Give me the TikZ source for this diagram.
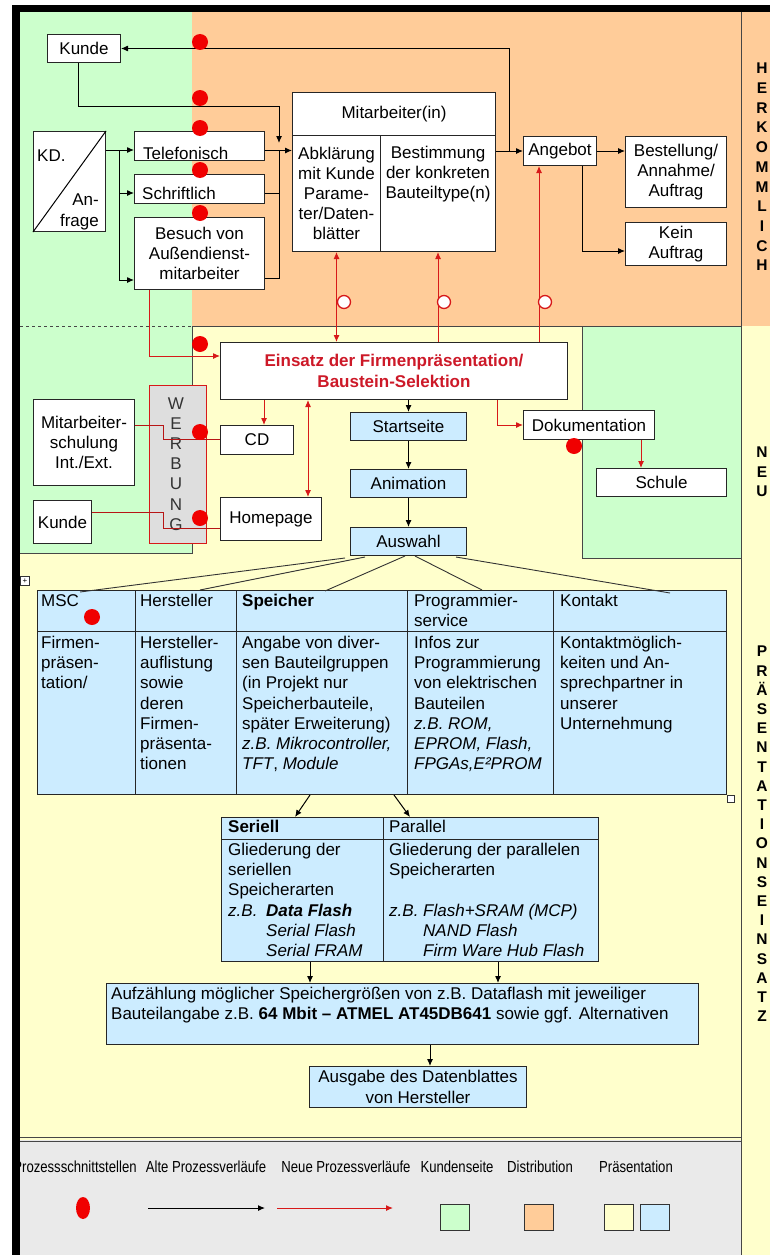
\documentclass[tikz,border=0pt]{standalone}
\usepackage{fontspec}
\setmainfont{Liberation Sans}
\newfontfamily\legendfont[FakeStretch=0.82]{Liberation Sans}
\usetikzlibrary{arrows.meta,calc,shapes.geometric}
\newcommand\myfs{\fontsize{17}{20.2}\selectfont}
\definecolor{kgreen}{RGB}{204,255,204}
\definecolor{korange}{RGB}{255,204,153}
\definecolor{kyellow}{RGB}{255,255,204}
\definecolor{kblue}{RGB}{204,236,255}
\definecolor{kgray}{RGB}{234,234,234}
\definecolor{wgray}{RGB}{222,222,222}
\definecolor{kred}{RGB}{215,25,25}
\definecolor{dotred}{RGB}{240,0,0}
\definecolor{tred}{RGB}{205,25,40}
\definecolor{lgray}{RGB}{70,70,70}
\tikzset{
 box/.style={draw=black!85, fill=white, line width=1pt, inner sep=1pt, font=\myfs, align=center, anchor=north west},
 bbox/.style={box, fill=kblue},
 cell/.style={draw=black!85, fill=kblue, line width=1pt, inner sep=0pt, anchor=north west},
 txt/.style={inner sep=0pt, font=\myfs, align=left, anchor=north west},
 oldarr/.style={draw=black, line width=1pt, -{Latex[length=7pt,width=6pt]}},
 newarr/.style={draw=kred, line width=1pt, -{Latex[length=7pt,width=6pt]}},
 dnewarr/.style={draw=kred, line width=1pt, {Latex[length=7pt,width=6pt]}-{Latex[length=7pt,width=6pt]}},
 redln/.style={draw=kred!85!black, line width=0.8pt},
 blkln/.style={draw=black, line width=1pt},
 fanln/.style={draw=black!80, line width=0.9pt},
 pdot/.style={circle, fill=dotred, minimum size=16pt, inner sep=0pt},
 odot/.style={circle, draw=kred, fill=white, line width=1.3pt, minimum size=13pt, inner sep=0pt},
 vlab/.style={font=\bfseries\fontsize{15.5}{19.7}\selectfont, align=center, inner sep=0pt},
 leg/.style={font=\legendfont\fontsize{16}{18}\selectfont, inner sep=0pt},
}
\begin{document}
\begin{tikzpicture}[x=1pt,y=-1pt]
\useasboundingbox (0,0) rectangle (770,1255);
% backgrounds
\fill[white] (0,0) rectangle (770,1255);
\fill[kgreen] (20,12) rectangle (192,553);
\fill[korange] (192,12) rectangle (741,326);
\fill[kyellow] (192,326) rectangle (741,1140);
\fill[kyellow] (20,553) rectangle (192,1140);
\fill[kgreen] (582,326) rectangle (741,558);
\fill[korange] (741,12) rectangle (770,326);
\fill[kyellow] (741,326) rectangle (770,1255);
\fill[kgray] (20,1140) rectangle (741,1255);
\draw[lgray, line width=0.8pt] (192,326) -- (741,326);
\draw[lgray, line width=0.8pt, dashed] (20,326) -- (192,326);
\draw[lgray, line width=0.8pt] (192,326) -- (192,553) -- (20,553);
\draw[lgray, line width=0.8pt] (582,326) -- (582,558) -- (741,558);
\draw[lgray, line width=0.8pt] (741,12) -- (741,1255);
\draw[lgray, line width=0.9pt] (20,1137) -- (741,1137);
\draw[lgray, line width=0.9pt] (20,1141) -- (741,1141);

% right labels
\node[vlab] (lherk) at (762,167) {H\\E\\R\\K\\O\\M\\M\\L\\I\\C\\H};
\node[vlab] (lneu) at (762,472) {N\\E\\U};
\node[vlab, font=\bfseries\fontsize{15.5}{19.2}\selectfont] (lpraes) at (762,834) {P\\R\\Ä\\S\\E\\N\\T\\A\\T\\I\\O\\N\\S\\E\\I\\N\\S\\A\\T\\Z};

% ---------- top part ----------
\node[box, minimum width=73pt, minimum height=28pt] (kunde1) at (47,34) {Kunde};
\node[box, minimum width=72pt, minimum height=100pt] (kd) at (33,131) {};
\draw[blkln] (kd.south west) -- (kd.north east);
\node[txt] (kdt1) at (37,150) {KD.};
\node[txt, align=right, anchor=north east] (kdt2) at (99,194) {An-\\frage};
\node[box, minimum width=130pt, minimum height=29pt] (tel) at (134,131) {};
\node[txt, anchor=west] (telt) at ($(tel.west)+(9,7)$) {Telefonisch};
\node[box, minimum width=130pt, minimum height=29pt] (schr) at (134,174) {};
\node[txt, anchor=west] (schrt) at ($(schr.west)+(8,4)$) {Schriftlich};
\node[box, minimum width=130pt, minimum height=72pt] (bes) at (134,217) {Besuch von\\Außendienst-\\mitarbeiter};
\node[box, minimum width=203pt, minimum height=43pt] (mah) at (292,92) {Mitarbeiter(in)};
\node[box, minimum width=88pt, minimum height=116pt] (mal) at (292,135) {Abklärung\\mit Kunde\\Parame-\\ter/Daten-\\blätter};
\node[box, minimum width=115pt, minimum height=116pt] (mar) at (380,135) {};
\node[txt, anchor=north, align=center] (mart) at ($(mar.north)+(0,11)$) {Bestimmung\\der konkreten\\Bauteiltype(n)};
\node[box, minimum width=73pt, minimum height=29pt] (ang) at (523,136) {Angebot};
\node[box, minimum width=101pt, minimum height=71pt] (best) at (625,136) {Bestellung/\\Annahme/\\Auftrag};
\node[box, minimum width=101pt, minimum height=43pt] (kein) at (625,222) {Kein\\Auftrag};

% black connectors top
\coordinate (t1) at ($(tel.east)+(0,4.5)$);
\coordinate (j3) at (279,106);
\coordinate (j1) at ($(ang.west)+(-14,0)$);
\coordinate (j4) at (119,150);
\coordinate (j5) at (119,280);
\coordinate (a0) at ($(ang.south west)+(59,0)$);
\draw[oldarr] (ang.west -| mar.east) -- (ang.west);
\draw[oldarr] (j1) |- (kunde1.east);
\draw[oldarr] (ang.east) -- (ang.east -| best.west);
\draw[oldarr] (a0) |- ($(kein.west)+(0,7)$);
\draw[oldarr] ($(kunde1.south)+(-6,0)$) |- (j3) -- ($(j3)+(0,37)$);
\draw[oldarr] (t1) -- (t1 -| mal.west);
\draw[blkln] (t1 -| j3) -- ($(bes.east -| j3)+(0,25)$);
\draw[blkln] ($(schr.east)+(0,4)$) -- ($(schr.east -| j3)+(0,4)$);
\draw[blkln] ($(bes.east)+(0,25)$) -- ($(bes.east -| j3)+(0,25)$);
\draw[blkln] (kd.east |- j4) -- (j4) -- (j5);
\draw[oldarr] (j4) -- (j4 -| tel.west);
\draw[oldarr] ($(j4 |- schr.west)+(0,4)$) -- ($(schr.west)+(0,4)$);
\draw[oldarr] (j5) -- (j5 -| bes.west);

% ---------- middle part ----------
\node[box, minimum width=347pt, minimum height=57pt, font=\bfseries\fontsize{17}{20.5}\selectfont, text=tred] (ein) at (220,342) {Einsatz der Firmenpräsentation/\\Baustein-Selektion};
\node[box, minimum width=73pt, minimum height=29pt] (cd) at (220,425) {CD};
\node[box, minimum width=101pt, minimum height=43pt] (hp) at (220,497) {Homepage};
\node[bbox, minimum width=116pt, minimum height=28pt] (st) at (350,412) {Startseite};
\node[bbox, minimum width=116pt, minimum height=28pt] (ani) at (350,469) {Animation};
\node[bbox, minimum width=116pt, minimum height=28pt] (ausw) at (350,527) {Auswahl};
\node[box, minimum width=131pt, minimum height=29pt] (dok) at (523,410) {Dokumentation};
\node[box, minimum width=130pt, minimum height=28pt] (schule) at (596,468) {Schule};
\node[box, minimum width=101pt, minimum height=86pt] (ms) at (33,399) {Mitarbeiter-\\schulung\\Int./Ext.};
\node[box, minimum width=58pt, minimum height=43pt] (ku2) at (33,500) {Kunde};
\node[box, fill=wgray, draw=kred, minimum width=57pt, minimum height=158pt] (werb) at (149,385) {};
\node[font=\myfs, align=center, inner sep=0pt, text=black!80] (werbt) at (176,464) {W\\E\\R\\B\\U\\N\\G};

% red connectors
\draw[newarr] ($(bes.south west)+(15,0)$) |- ($(ein.north west)+(0,14)$);
\draw[dnewarr] (mal.south) -- (mal.south |- ein.north);
\draw[newarr] (mar.south |- ein.north) -- (mar.south);
\coordinate (a1) at ($(ang.south west)+(16,0)$);
\draw[newarr] (a1 |- ein.north) -- (a1);
\coordinate (c1) at ($(cd.north west)+(44,0)$);
\draw[newarr] (c1 |- ein.south) -- (c1);
\coordinate (h1) at ($(hp.north east)+(-14,0)$);
\draw[dnewarr] (h1 |- ein.south) -- (h1);
\coordinate (e1) at ($(ein.south east)+(-71,0)$);
\draw[newarr] (e1) |- (dok.west);
\coordinate (d1) at ($(dok.south east)+(-14,0)$);
\draw[newarr] (d1) -- (d1 |- schule.north);
\coordinate (w1) at (163,439);
\coordinate (w2) at (163,528);
\draw[redln] ($(ms.north east)+(0,26)$) -| (w1) -- (w1 -| cd.west);
\draw[redln] ($(ku2.north east)+(0,12)$) -| (w2) -- (w2 -| hp.west);
% black flow
\draw[oldarr] (st.north |- ein.south) -- (st.north);
\draw[oldarr] (st.south) -- (ani.north);
\draw[oldarr] (ani.south) -- (ausw.north);

% ---------- table ----------
\node[cell, minimum width=98pt, minimum height=41pt] (h1c) at (37,590) {};
\node[cell, minimum width=101pt, minimum height=41pt] (h2c) at (135,590) {};
\node[cell, minimum width=171pt, minimum height=41pt] (h3c) at (236,590) {};
\node[cell, minimum width=146pt, minimum height=41pt] (h4c) at (407,590) {};
\node[cell, minimum width=173pt, minimum height=41pt] (h5c) at (553,590) {};
\node[cell, minimum width=98pt, minimum height=163pt] (b1c) at (37,631) {};
\node[cell, minimum width=101pt, minimum height=163pt] (b2c) at (135,631) {};
\node[cell, minimum width=171pt, minimum height=163pt] (b3c) at (236,631) {};
\node[cell, minimum width=146pt, minimum height=163pt] (b4c) at (407,631) {};
\node[cell, minimum width=173pt, minimum height=163pt] (b5c) at (553,631) {};
\node[txt] (h1t) at (41,594) {MSC};
\node[txt] (h2t) at (140,594) {Hersteller};
\node[txt] (h3t) at (242,594) {\textbf{Speicher}};
\node[txt] (h4t) at (414,594) {Programmier-\\service};
\node[txt] (h5t) at (560,594) {Kontakt};
\node[txt] (b1t) at (41,636) {Firmen-\\präsen-\\tation/};
\node[txt] (b2t) at (140,636) {Hersteller-\\auflistung\\sowie\\deren\\Firmen-\\präsenta-\\tionen};
\node[txt] (b3t) at (242,636) {Angabe von diver-\\sen Bauteilgruppen\\(in Projekt nur\\Speicherbauteile,\\später Erweiterung)\\\textit{z.B. Mikrocontroller,}\\\textit{TFT}, \textit{Module}};
\node[txt] (b4t) at (414,636) {Infos zur\\Programmierung\\von elektrischen\\Bauteilen\\\textit{z.B. ROM,}\\\textit{EPROM, Flash,}\\\textit{FPGAs,E²PROM}};
\node[txt] (b5t) at (560,636) {Kontaktmöglich-\\keiten und An-\\sprechpartner in\\unserer\\Unternehmung};
\node[draw=black!80, fill=white, minimum size=7pt, inner sep=0pt] (sqr) at (731,799) {};
\node[draw=black!80, fill=white, minimum size=9pt, inner sep=0pt, font=\fontsize{8}{8}\selectfont] (mvh) at (25,581) {+};

% fan lines
\draw[fanln] ($(ausw.south west)+(-5,2)$) -- ($(h1c.north west)+(43,2)$);
\draw[fanln] ($(ausw.south west)+(15,1)$) -- ($(h2c.north west)+(65,0)$);
\draw[fanln] ($(ausw.south west)+(55,0)$) -- ($(h3c.north west)+(89,1)$);
\draw[fanln] ($(ausw.south west)+(65,0)$) -- ($(h4c.north west)+(75,0)$);
\draw[fanln] ($(ausw.south east)+(-11,1)$) -- ($(h5c.north west)+(117,3)$);

% ---------- Seriell / Parallel ----------
\node[cell, minimum width=162pt, minimum height=22pt] (sh1) at (221,817) {};
\node[cell, minimum width=215pt, minimum height=22pt] (sh2) at (383,817) {};
\node[cell, minimum width=162pt, minimum height=122pt] (sb1) at (221,839) {};
\node[cell, minimum width=215pt, minimum height=122pt] (sb2) at (383,839) {};
\node[txt] (sh1t) at (228,820) {\textbf{Seriell}};
\node[txt] (sh2t) at (389,820) {Parallel};
\node[txt] (sb1t) at (228,843) {Gliederung der\\seriellen\\Speicherarten\\\makebox[38pt][l]{\textit{z.B.}}\textbf{\textit{Data Flash}}\\\hspace*{38pt}\textit{Serial Flash}\\\hspace*{38pt}\textit{Serial FRAM}};
\node[txt] (sb2t) at (389,843) {Gliederung der parallelen\\Speicherarten\\~\\\textit{z.B. Flash+SRAM (MCP)}\\\hspace*{34pt}\textit{NAND Flash}\\\hspace*{34pt}\textit{Firm Ware Hub Flash}};
\draw[oldarr] ($(b3c.south west)+(74,0)$) -- ($(sh1.north west)+(74,0)$);
\draw[oldarr] ($(b3c.south east)+(-14,0)$) -- ($(sh2.north west)+(27,0)$);

\node[bbox, minimum width=592pt, minimum height=61pt] (aufz) at (106,983) {};
\node[txt] (aufzt) at (111,987) {Aufzählung möglicher Speichergrößen von z.B. Dataflash mit jeweiliger\\Bauteilangabe z.B. \textbf{64 Mbit – ATMEL AT45DB641} sowie ggf. Alternativen};
\node[bbox, minimum width=217pt, minimum height=41pt] (ausg) at (309,1066) {Ausgabe des Datenblattes\\von Hersteller};
\coordinate (s1) at ($(sb1.south west)+(89,0)$);
\coordinate (s2) at ($(sb2.south west)+(115,0)$);
\draw[oldarr] (s1) -- (s1 |- aufz.north);
\draw[oldarr] (s2) -- (s2 |- aufz.north);
\coordinate (g1) at ($(ausg.north west)+(121,0)$);
\draw[oldarr] (g1 |- aufz.south) -- (g1);

% ---------- dots ----------
\node[pdot] (p1) at (200,42) {};
\node[pdot] (p2) at (200,98) {};
\node[pdot] (p3) at (200,128) {};
\node[pdot] (p4) at (200,170) {};
\node[pdot] (p5) at (200,213) {};
\node[pdot] (p6) at (200,344) {};
\node[pdot] (p7) at (200,432) {};
\node[pdot] (p8) at (200,518) {};
\node[pdot] (p9) at (574,446) {};
\node[pdot] (p10) at (92,617) {};
\node[odot] (o1) at (344,302) {};
\node[odot] (o2) at (444,302) {};
\node[odot] (o3) at (545,302) {};

% ---------- legend ----------
\node[leg] (lg1) at (75,1167) {Prozessschnittstellen};
\node[leg] (lg2) at (206,1167) {Alte Prozessverläufe};
\node[leg] (lg3) at (346,1167) {Neue Prozessverläufe};
\node[leg] (lg4) at (457,1167) {Kundenseite};
\node[leg] (lg5) at (540,1167) {Distribution};
\node[leg] (lg6) at (636,1167) {Präsentation};
\node[ellipse, fill=dotred, minimum width=14pt, minimum height=22pt, inner sep=0pt] (ls1) at (83,1208) {};
\coordinate (la1) at (148,1208);
\coordinate (la2) at (265,1208);
\coordinate (lr1) at (277,1208);
\coordinate (lr2) at (393,1208);
\draw[oldarr] (la1) -- (la2);
\draw[newarr] (lr1) -- (lr2);
\node[draw=black!80, fill=kgreen, minimum width=29pt, minimum height=26pt, inner sep=0pt, anchor=north west, line width=0.9pt] (lq1) at (440,1204) {};
\node[draw=black!80, fill=korange, minimum width=29pt, minimum height=26pt, inner sep=0pt, anchor=north west, line width=0.9pt] (lq2) at (524,1204) {};
\node[draw=black!80, fill=kyellow, minimum width=29pt, minimum height=26pt, inner sep=0pt, anchor=north west, line width=0.9pt] (lq3) at (604,1204) {};
\node[draw=black!80, fill=kblue, minimum width=29pt, minimum height=26pt, inner sep=0pt, anchor=north west, line width=0.9pt] (lq4) at (640,1204) {};

% black frame bars
\fill[black] (12,5) rectangle (770,12);
\fill[black] (12,5) rectangle (20,1255);
\end{tikzpicture}
\end{document}
